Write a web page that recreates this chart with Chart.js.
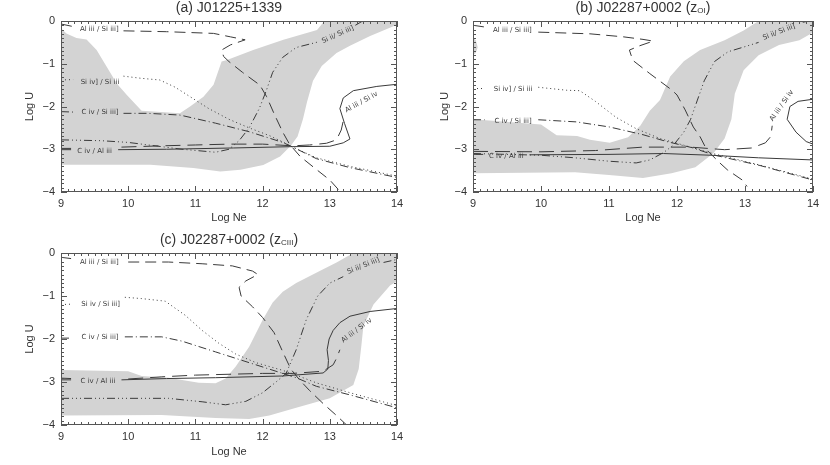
<!DOCTYPE html>
<html>
<head>
<meta charset="utf-8">
<script src="https://cdn.jsdelivr.net/npm/chart.js@4.4.1/dist/chart.umd.min.js"></script>
<style>
  body { margin: 0; background: #fff; }
  #wrap { position: relative; width: 830px; height: 465px; }
  canvas { position: absolute; }
</style>
</head>
<body>
<div id="wrap">
  <canvas id="panelA" width="410" height="225" style="left:0;top:0"></canvas>
  <canvas id="panelB" width="418" height="225" style="left:412px;top:0"></canvas>
  <canvas id="panelC" width="410" height="234" style="left:0;top:225px"></canvas>
</div>
<script>
// ---- panel (a) J01225+1339 ----
const aBandUpNe = [9, 9.08, 9.23, 9.38, 9.53, 9.68, 9.83, 9.98, 10.2, 10.77, 10.92, 11.12, 11.27, 11.39, 11.47, 11.86, 12.31, 12.81, 12.92, 14];
const aBandUpU  = [-0.17, -0.29, -0.4, -0.43, -0.68, -1.07, -1.46, -1.73, -2.1, -2.16, -2.0, -1.77, -1.49, -0.95, -0.91, -0.68, -0.44, -0.21, 0, 0];
const aBandLoNe = [9, 10.33, 10.97, 11.37, 11.67, 12.01, 12.26, 12.42, 12.52, 12.6, 12.66, 12.75, 12.88, 13.1, 13.3, 13.6, 14];
const aBandLoU  = [-3.36, -3.36, -3.44, -3.52, -3.48, -3.37, -3.17, -2.92, -2.7, -2.3, -1.9, -1.4, -1.05, -0.75, -0.58, -0.35, -0.09];

const aAlSi3Ne = [9, 9.18, 9.5, 9.93, 10.57, 11.27, 11.52, 11.74, 11.52, 11.39, 11.42, 11.5, 11.7, 11.96, 12.06, 12.18, 12.3, 12.4, 12.56, 12.75, 13.0, 13.16];
const aAlSi3U  = [-0.07, -0.13, null, -0.23, -0.25, -0.29, -0.37, -0.44, -0.56, -0.68, -0.83, -0.95, -1.2, -1.5, -1.77, -2.2, -2.6, -2.88, -3.17, -3.41, -3.72, -4.0];
const aSiIVNe = [9, 9.18, 9.5, 9.93, 10.19, 10.47, 10.7, 10.95, 11.2, 11.5, 11.8, 12.1, 12.3, 12.45, 12.8, 13.3, 14];
const aSiIVU  = [-1.38, -1.37, null, -1.29, -1.34, -1.38, -1.55, -1.8, -2.05, -2.3, -2.5, -2.68, -2.83, -2.95, -3.2, -3.4, -3.63];
const aCIVNe = [9, 9.18, 9.5, 9.93, 10.3, 10.77, 11.3, 11.8, 12.3, 12.45, 12.8, 13.3, 14];
const aCIVU  = [-2.12, -2.13, null, -2.16, -2.16, -2.2, -2.39, -2.59, -2.84, -2.95, -3.22, -3.43, -3.66];
const aSiIINe = [9, 9.6, 10, 10.4, 10.8, 11.3, 11.5, 11.65, 11.8, 11.95, 12.05, 12.15, 12.3, 12.5, 12.85, 13.1, 13.38, 13.6];
const aSiIIU  = [-2.78, -2.8, -2.84, -2.92, -3.0, -3.07, -3.0, -2.8, -2.5, -2.05, -1.65, -1.2, -0.85, -0.62, -0.48, null, -0.1, 0.1];
const aCAlNe = [9, 9.15, 9.5, 9.85, 10.57, 11.57, 12.41, 13.0, 13.2, 13.3, 13.22, 13.15, 13.2, 13.35, 13.7, 14];
const aCAlU  = [-3.01, -3.01, null, -3.01, -3.0, -2.97, -2.94, -2.93, -2.85, -2.76, -2.4, -2.05, -1.8, -1.63, -1.53, -1.48];
const aAlSi4Ne = [9, 9.15, 9.5, 9.9, 10.5, 11, 11.5, 12, 12.45, 12.7, 12.95, 13.1, 13.17, 13.22];
const aAlSi4U  = [-2.98, -2.98, null, -2.95, -2.92, -2.9, -2.88, -2.88, -2.92, -2.9, -2.86, -2.78, -2.55, -2.2];

const aNoteText = ['Al iii / Si iii]', 'Si iv] / Si iii', 'C iv / Si iii]', 'C iv / Al iii', 'Si ii/ Si iii]', 'Al iii / Si iv'];
const aNoteNe = [9.57, 9.58, 9.58, 9.5, 13.12, 13.47];
const aNoteU  = [-0.2, -1.42, -2.13, -3.04, -0.32, -1.9];
const aNoteRot = [0, 0, 0, 0, -24, -29];

// ---- panel (b) J02287+0002 (z OI) ----
const bBandUpNe = [9, 10, 10.23, 10.53, 10.72, 11.01, 11.28, 11.46, 11.6, 11.75, 11.9, 12.1, 12.34, 12.7, 12.98, 13.2, 14];
const bBandUpU  = [-2.3, -2.42, -2.67, -2.69, -2.78, -2.85, -2.72, -2.45, -2.1, -1.85, -1.3, -0.94, -0.68, -0.45, -0.22, 0, 0];
const bBandLoNe = [9, 10.5, 11.0, 11.5, 11.92, 12.27, 12.54, 12.7, 12.8, 12.85, 12.98, 13.2, 13.5, 13.8, 14];
const bBandLoU  = [-3.56, -3.54, -3.6, -3.67, -3.56, -3.42, -3.09, -2.75, -2.3, -1.7, -1.15, -0.8, -0.56, -0.45, -0.27];
const bBlobUpNe = [9, 9.04, 9.07];
const bBlobUpU  = [-0.38, -0.45, -0.6];
const bBlobLoNe = [9, 9.04, 9.07];
const bBlobLoU  = [-0.8, -0.75, -0.62];

const bAlSi3Ne = [9, 9.17, 9.5, 9.96, 10.72, 11.21, 11.5, 11.65, 11.45, 11.3, 11.35, 11.6, 11.92, 12.0, 12.12, 12.24, 12.34, 12.44, 12.63, 12.74, 12.96, 13.03];
const bAlSi3U  = [-0.1, -0.14, null, -0.26, -0.3, -0.37, -0.43, -0.47, -0.58, -0.68, -0.92, -1.23, -1.61, -1.73, -2.08, -2.48, -2.71, -3.02, -3.32, -3.48, -3.72, -3.87];
const bSiIVNe = [9, 9.17, 9.5, 9.96, 10.38, 10.57, 10.8, 11.1, 11.4, 11.75, 12.2, 12.53, 13.22, 14];
const bSiIVU  = [-1.58, -1.58, null, -1.55, -1.62, -1.63, -1.88, -2.25, -2.52, -2.75, -2.95, -3.1, -3.37, -3.7];
const bCIVNe = [9, 9.17, 9.5, 9.96, 10.52, 11.01, 11.5, 11.85, 12.24, 12.53, 13.22, 14];
const bCIVU  = [-2.31, -2.31, null, -2.31, -2.36, -2.48, -2.66, -2.82, -2.97, -3.13, -3.38, -3.72];
const bSiIINe = [9, 9.5, 10, 10.5, 11, 11.4, 11.6, 11.8, 11.95, 12.1, 12.2, 12.3, 12.4, 12.55, 12.75, 13.0, 13.2, 13.5, 13.85, 14];
const bSiIIU  = [-3.1, -3.12, -3.14, -3.2, -3.28, -3.32, -3.25, -3.08, -2.9, -2.6, -2.3, -1.85, -1.4, -0.95, -0.72, -0.6, -0.5, null, -0.03, 0.02];
const bCAlNe = [9, 9.15, 9.5, 9.83, 11, 11.8, 12.5, 13.2, 14];
const bCAlU  = [-3.12, -3.12, null, -3.13, -3.12, -3.1, -3.14, -3.2, -3.25];
const bCAl2Ne = [14, 13.78, 13.66, 13.62, 13.75, 13.9, 14];
const bCAl2U  = [-1.83, -1.88, -2.0, -2.3, -2.6, -2.82, -2.88];
const bAlSi4Ne = [9, 10, 10.8, 11.5, 12.2, 12.7, 13.1, 13.3, 13.38, 13.4];
const bAlSi4U  = [-3.05, -3.06, -3.03, -2.95, -2.95, -3.01, -2.97, -2.85, -2.7, -2.45];

const bNoteText = ['Al iii / Si iii]', 'Si iv] / Si iii', 'C iv / Si iii]', 'C iv / Al iii', 'Si ii/ Si iii]', 'Al iii / Si iv'];
const bNoteNe = [9.58, 9.59, 9.59, 9.49, 13.5, 13.54];
const bNoteU  = [-0.22, -1.6, -2.34, -3.17, -0.26, -1.98];
const bNoteRot = [0, 0, 0, 0, -21, -55];

// ---- panel (c) J02287+0002 (z CIII) ----
const cBandUpNe = [9, 10, 10.2, 10.6, 11.05, 11.3, 11.45, 11.6, 11.8, 12.0, 12.15, 12.3, 12.5, 12.85, 13.1, 13.35, 14];
const cBandUpU  = [-2.72, -2.75, -2.86, -2.9, -3.02, -3.03, -2.92, -2.64, -2.18, -1.56, -1.15, -0.9, -0.7, -0.42, -0.22, 0, 0];
const cBandLoNe = [9, 10.5, 11.3, 11.8, 12.1, 12.5, 13.0, 13.35, 13.43, 13.47, 13.5, 13.65, 13.9, 14];
const cBandLoU  = [-3.78, -3.77, -3.84, -3.86, -3.78, -3.6, -3.38, -3.07, -2.7, -2.15, -1.7, -1.2, -0.75, -0.66];

const cAlSi3Ne = [9, 9.15, 9.5, 10, 10.6, 11.1, 11.55, 11.85, 11.93, 11.75, 11.65, 11.68, 11.85, 12.0, 12.17, 12.3, 12.42, 12.55, 12.7, 12.9, 13.1, 13.25];
const cAlSi3U  = [-0.1, -0.13, null, -0.21, -0.21, -0.25, -0.3, -0.42, -0.5, -0.65, -0.8, -1.0, -1.25, -1.5, -1.85, -2.3, -2.7, -2.95, -3.2, -3.5, -3.78, -4.0];
const cSiIVNe = [9, 9.15, 9.5, 9.95, 10.2, 10.55, 10.85, 11.1, 11.35, 11.6, 11.9, 12.3, 12.5, 12.8, 13.3, 14];
const cSiIVU  = [-1.2, -1.19, null, -1.03, -1.06, -1.12, -1.45, -1.8, -2.1, -2.35, -2.55, -2.73, -2.84, -3.02, -3.25, -3.55];
const cCIVNe = [9, 9.15, 9.5, 9.95, 10.5, 10.8, 11.3, 11.8, 12.3, 12.5, 12.8, 13.3, 14];
const cCIVU  = [-1.98, -1.98, null, -1.95, -1.95, -2.05, -2.3, -2.55, -2.8, -2.9, -3.1, -3.3, -3.6];
const cSiIINe = [9, 10, 10.6, 11.1, 11.45, 11.75, 12.0, 12.2, 12.35, 12.5, 12.65, 12.82, 13.0, 13.2, 13.5, 13.8, 14];
const cSiIIU  = [-3.38, -3.38, -3.38, -3.46, -3.53, -3.45, -3.25, -3.0, -2.8, -2.25, -1.55, -1.0, -0.7, -0.55, null, -0.22, -0.15];
const cCAlNe = [9, 9.15, 9.5, 9.9, 10.57, 11.3, 12.3, 12.9, 12.97, 12.98, 12.96, 12.99, 13.05, 13.15, 13.3, 13.6, 14];
const cCAlU  = [-2.91, -2.92, null, -2.95, -2.92, -2.9, -2.86, -2.79, -2.7, -2.5, -2.25, -2.0, -1.8, -1.62, -1.47, -1.36, -1.29];
const cAlSi4Ne = [9, 9.15, 9.5, 10, 10.5, 11, 11.5, 12, 12.45, 12.9, 13.05, 13.1, 13.15];
const cAlSi4U  = [-2.95, -2.95, null, -2.93, -2.88, -2.84, -2.82, -2.8, -2.8, -2.75, -2.6, -2.45, -2.25];

const cNoteText = ['Al iii / Si iii]', 'Si iv / Si iii]', 'C iv / Si iii]', 'C iv / Al iii', 'Si ii/ Si iii]', 'Al iii / Si iv'];
const cNoteNe = [9.57, 9.59, 9.58, 9.55, 13.5, 13.4];
const cNoteU  = [-0.22, -1.2, -1.96, -2.97, -0.3, -1.8];
const cNoteRot = [0, 0, 0, 0, -22, -37];

const INK = '#3a3a3a';
const GRAY = '#d3d3d3';
const FONT = '"Liberation Sans", Arial, sans-serif';

// IDL linestyles
const DASH = [11, 6];
const DOT = [1, 3];
const DASHDOT = [8, 3, 1, 3];
const DASH3DOT = [8, 3, 1, 3, 1, 3, 1, 3];
const LONGDASH = [15, 7];

function pts(ne, u) {
  return ne.map((x, i) => ({ x, y: u[i] }));
}

function curve(ne, u, dash) {
  return { data: pts(ne, u), showLine: true, pointRadius: 0, borderColor: INK, borderWidth: 1,
           borderDash: dash, fill: false, order: 0 };
}

// upper edge fills down to the lower edge dataset right after it
function band(upNe, upU, loNe, loU) {
  return [
    { data: pts(upNe, upU), showLine: true, pointRadius: 0, borderWidth: 1, borderColor: 'rgba(0,0,0,0)',
      backgroundColor: GRAY, fill: '+1', order: 5 },
    { data: pts(loNe, loU), showLine: true, pointRadius: 0, borderWidth: 1, borderColor: 'rgba(0,0,0,0)',
      fill: false, order: 5 }
  ];
}

const framePlugin = {
  id: 'frame',
  afterDatasetsDraw(chart) {
    const { ctx, chartArea: a, scales: { x, y } } = chart;
    ctx.save();
    ctx.strokeStyle = '#555';
    ctx.lineWidth = 1;
    ctx.beginPath();
    const nx = Math.round((x.max - x.min) * 10);
    for (let i = 0; i <= nx; i++) {
      const px = Math.round(x.getPixelForValue(x.min + i / 10)) + 0.5;
      const len = i % 10 === 0 ? 6 : 3;
      ctx.moveTo(px, a.bottom); ctx.lineTo(px, a.bottom - len);
      ctx.moveTo(px, a.top); ctx.lineTo(px, a.top + len);
    }
    const ny = Math.round((y.max - y.min) * 10);
    for (let i = 0; i <= ny; i++) {
      const py = Math.round(y.getPixelForValue(y.min + i / 10)) + 0.5;
      const len = i % 10 === 0 ? 6 : 3;
      ctx.moveTo(a.left, py); ctx.lineTo(a.left + len, py);
      ctx.moveTo(a.right, py); ctx.lineTo(a.right - len, py);
    }
    ctx.stroke();
    ctx.strokeRect(Math.round(a.left) + 0.5, Math.round(a.top) + 0.5, Math.round(a.width) - 1, Math.round(a.height) - 1);
    ctx.restore();
  }
};

function notePlugin(text, ne, u, rot) {
  return {
    id: 'notes',
    afterDatasetsDraw(chart) {
      const { ctx, scales: { x, y } } = chart;
      ctx.save();
      ctx.font = '7px "DejaVu Sans", sans-serif';
      ctx.fillStyle = INK;
      ctx.textAlign = 'center';
      ctx.textBaseline = 'middle';
      text.forEach((t, i) => {
        ctx.save();
        ctx.translate(x.getPixelForValue(ne[i]), y.getPixelForValue(u[i]));
        ctx.rotate(rot[i] * Math.PI / 180);
        ctx.fillText(t, 0, 0);
        ctx.restore();
      });
      ctx.restore();
    }
  };
}

// title with an optional subscript piece
function titlePlugin(main, sub, tail, ty) {
  return {
    id: 'panelTitle',
    afterDraw(chart) {
      const { ctx, chartArea: a } = chart;
      ctx.save();
      ctx.fillStyle = '#333';
      ctx.textBaseline = 'middle';
      ctx.textAlign = 'left';
      const big = '14px ' + FONT, small = '8px ' + FONT;
      ctx.font = big;
      const w1 = ctx.measureText(main).width, w3 = ctx.measureText(tail).width;
      ctx.font = small;
      const w2 = ctx.measureText(sub).width;
      let x = (a.left + a.right) / 2 - (w1 + w2 + w3) / 2;
      ctx.font = big; ctx.fillText(main, x, ty); x += w1;
      ctx.font = small; ctx.fillText(sub, x, ty + 3); x += w2;
      ctx.font = big; ctx.fillText(tail, x, ty);
      ctx.restore();
    }
  };
}

function makePanel(id, p) {
  new Chart(document.getElementById(id), {
    type: 'scatter',
    data: { datasets: [...p.curves, ...p.bands] },
    options: {
      responsive: false,
      animation: false,
      events: [],
      layout: { padding: { top: p.top, right: p.right, left: 0, bottom: 0 } },
      plugins: { legend: { display: false }, tooltip: { enabled: false } },
      scales: {
        x: {
          type: 'linear', min: 9, max: 14,
          afterFit: s => { s.height = p.xh; },
          grid: { display: false, drawTicks: false },
          border: { display: false },
          ticks: { stepSize: 1, padding: 5, color: '#333', font: { family: FONT, size: 11 } },
          title: { display: true, text: 'Log Ne', color: '#333', font: { family: FONT, size: 11 },
                   padding: { top: 0, bottom: 0 } }
        },
        y: {
          type: 'linear', min: -4, max: 0,
          afterFit: s => { s.width = 61; },
          grid: { display: false, drawTicks: false },
          border: { display: false },
          ticks: { stepSize: 1, padding: 6, color: '#333', font: { family: FONT, size: 11 },
                   callback: v => String(v).replace('-', '\u2212') },
          title: { display: true, text: 'Log U', color: '#333', font: { family: FONT, size: 11 },
                   padding: { top: p.ytp, bottom: 0 } }
        }
      }
    },
    plugins: [framePlugin, notePlugin(p.note[0], p.note[1], p.note[2], p.note[3]),
              titlePlugin(p.title[0], p.title[1], p.title[2], p.ty)]
  });
}

makePanel('panelA', {
  curves: [
    curve(aAlSi3Ne, aAlSi3U, DASH), curve(aSiIVNe, aSiIVU, DOT), curve(aCIVNe, aCIVU, DASHDOT),
    curve(aSiIINe, aSiIIU, DASH3DOT), curve(aCAlNe, aCAlU, []), curve(aAlSi4Ne, aAlSi4U, LONGDASH)
  ],
  bands: band(aBandUpNe, aBandUpU, aBandLoNe, aBandLoU),
  note: [aNoteText, aNoteNe, aNoteU, aNoteRot],
  title: ['(a) J01225+1339', '', ''],
  top: 21, right: 13, xh: 33, ytp: 23, ty: 8
});

makePanel('panelB', {
  curves: [
    curve(bAlSi3Ne, bAlSi3U, DASH), curve(bSiIVNe, bSiIVU, DOT), curve(bCIVNe, bCIVU, DASHDOT),
    curve(bSiIINe, bSiIIU, DASH3DOT), curve(bCAlNe, bCAlU, []), curve(bCAl2Ne, bCAl2U, []),
    curve(bAlSi4Ne, bAlSi4U, LONGDASH)
  ],
  bands: [...band(bBandUpNe, bBandUpU, bBandLoNe, bBandLoU), ...band(bBlobUpNe, bBlobUpU, bBlobLoNe, bBlobLoU)],
  note: [bNoteText, bNoteNe, bNoteU, bNoteRot],
  title: ['(b) J02287+0002 (z', 'OI', ')'],
  top: 21, right: 17, xh: 33, ytp: 26, ty: 8
});

makePanel('panelC', {
  curves: [
    curve(cAlSi3Ne, cAlSi3U, DASH), curve(cSiIVNe, cSiIVU, DOT), curve(cCIVNe, cCIVU, DASHDOT),
    curve(cSiIINe, cSiIIU, DASH3DOT), curve(cCAlNe, cCAlU, []), curve(cAlSi4Ne, cAlSi4U, LONGDASH)
  ],
  bands: band(cBandUpNe, cBandUpU, cBandLoNe, cBandLoU),
  note: [cNoteText, cNoteNe, cNoteU, cNoteRot],
  title: ['(c) J02287+0002 (z', 'CIII', ')'],
  top: 28, right: 13, xh: 34, ytp: 23, ty: 15
});
</script>
</body>
</html>
